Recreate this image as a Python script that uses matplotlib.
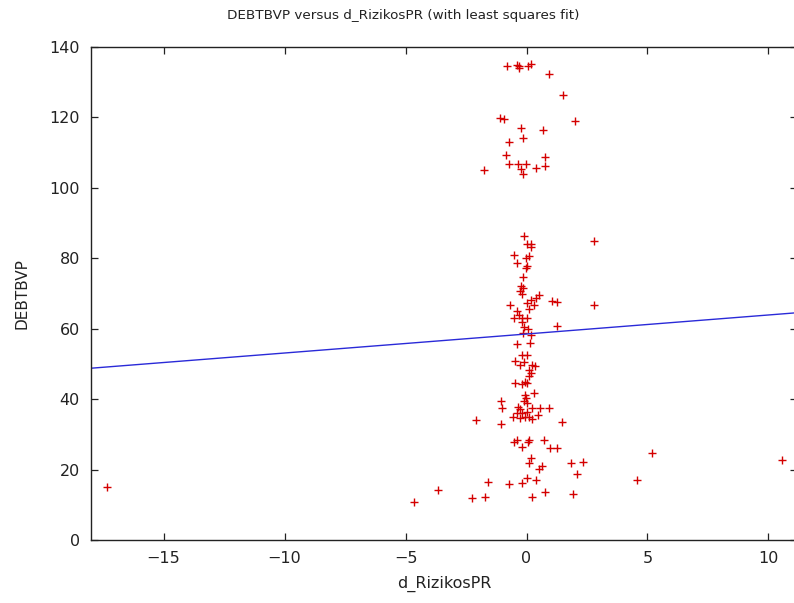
import numpy as np
import matplotlib
matplotlib.use('Agg')
import matplotlib.pyplot as plt

# 數據
d_rizikos_pr = [
    -0.79, -0.41, -0.33, -0.29, 0.05, 0.18, 0.95, 1.50, -1.10, -0.91, 1.99, -0.22, 0.70,
    -0.72, -0.15, -0.86, 0.77, -0.74, -0.34, -0.03, -0.22, -0.15, 0.40, 0.77, -1.77,
    -0.11, 0.00, 0.19, 0.17, -0.52, 0.10, -0.03, -0.41, 0.03, -0.03, -0.15, -0.22, -0.14,
    -0.25, -0.17, 0.52, 0.41, 1.05, 1.24, 0.17, 0.03, 0.30, -0.69, -0.41, 0.10, -0.32,
    -0.52, -0.18, 0.00, -0.17, 2.77, 2.77, 1.27, -0.11, 0.05, -0.14, 0.17, -0.39, 0.14,
    -0.18, 0.03, -0.48, -0.11, -0.25, 0.21, 0.37, 0.10, 0.17, 0.10, -0.48, -0.18, -0.08,
    0.03, 0.33, -0.07, -0.01, -1.07, -0.11, 0.03, -1.00, -0.36, -0.25, 0.24, 0.55, 0.92,
    -0.41, -0.17, 0.03, 0.47, -0.55, -0.28, -0.08, 0.10, 0.24, 1.48, -1.07, -2.07,
    -0.52, -0.39, -0.18, 0.10, 0.05, 0.72, 0.96, 1.24, 0.17, 0.10, 0.65, 0.51, 1.82,
    2.34, 2.07, -1.58, -0.73, -0.18, 0.00, 0.40, -2.25, -1.70, 0.24, 0.76, 1.93, -3.64,
    -4.67, -17.33, 4.55, 5.17, 10.55,
]
debtbvp = [
    134.6, 134.8, 134.0, 134.7, 134.7, 135.2, 132.4, 126.4, 119.8, 119.6, 119.0, 116.9, 116.4,
    113.1, 114.3, 109.3, 108.9, 106.7, 106.8, 106.8, 105.3, 103.9, 105.5, 106.1, 105.1,
    86.3, 84.1, 84.0, 83.1, 80.9, 80.6, 80.0, 78.8, 77.7, 77.2, 74.7, 72.1, 71.5,
    70.7, 69.8, 69.6, 68.8, 67.8, 67.7, 68.1, 67.2, 66.7, 66.7, 65.1, 65.5, 63.9,
    63.0, 63.0, 63.1, 62.0, 84.9, 66.7, 60.8, 60.6, 59.8, 58.7, 58.2, 55.6, 55.9,
    52.5, 52.5, 50.8, 50.6, 49.7, 49.6, 49.4, 48.3, 47.3, 46.7, 44.5, 44.2, 45.0,
    44.7, 41.7, 41.2, 40.2, 39.5, 39.5, 39.0, 37.4, 37.7, 37.1, 37.4, 37.4, 37.4,
    36.0, 36.0, 36.4, 35.5, 34.8, 34.6, 34.8, 35.0, 34.3, 33.6, 32.9, 34.1,
    27.9, 28.4, 26.3, 28.4, 27.8, 28.4, 26.1, 26.1, 23.2, 22.0, 21.0, 20.1, 21.8,
    22.2, 18.7, 16.6, 15.8, 16.3, 17.5, 17.0, 11.8, 12.3, 12.3, 13.7, 13.0, 14.2,
    10.8, 15.1, 17.0, 24.7, 22.7,
]

# 最小平方擬合線
FIT_INTERCEPT = 58.5
FIT_SLOPE = 0.54

X_TICKS = [-15, -10, -5, 0, 5, 10]
Y_TICKS = [0, 20, 40, 60, 80, 100, 120, 140]

plt.rcParams['font.family'] = ['DejaVu Sans']

fig = plt.figure(figsize=(7.94, 6.03), dpi=100)
# 右邊框落在圖片外
ax = fig.add_axes([91 / 794, 63 / 603, 706 / 794, 493 / 603])

ax.plot(d_rizikos_pr, debtbvp, linestyle='none', marker='+', markersize=6,
        markeredgewidth=1.0, color='#d40000')

xlim = (-18.0, 11.18)
fit_x = np.array(xlim)
ax.plot(fit_x, FIT_INTERCEPT + FIT_SLOPE * fit_x, color='#2a2ad8', linewidth=1.0)

ax.set_xlim(*xlim)
ax.set_ylim(0, 140)
ax.set_xticks(X_TICKS)
ax.set_yticks(Y_TICKS)
ax.tick_params(direction='in', length=5, width=0.9, top=True, right=True,
               labelsize=11.5, pad=8, colors='#222222')
for s in ax.spines.values():
    s.set_linewidth(1.0)
    s.set_color('#222222')
ax.spines['right'].set_visible(False)

ax.set_xlabel('d_RizikosPR', fontsize=11.5, labelpad=7, color='#222222')
ax.set_ylabel('DEBTBVP', fontsize=11, labelpad=14, color='#222222')
fig.text(403 / 794, 1 - 16 / 603, 'DEBTBVP versus d_RizikosPR (with least squares fit)',
         ha='center', va='center', fontsize=9.7, color='#222222')

fig.savefig('out.png', dpi=100)
